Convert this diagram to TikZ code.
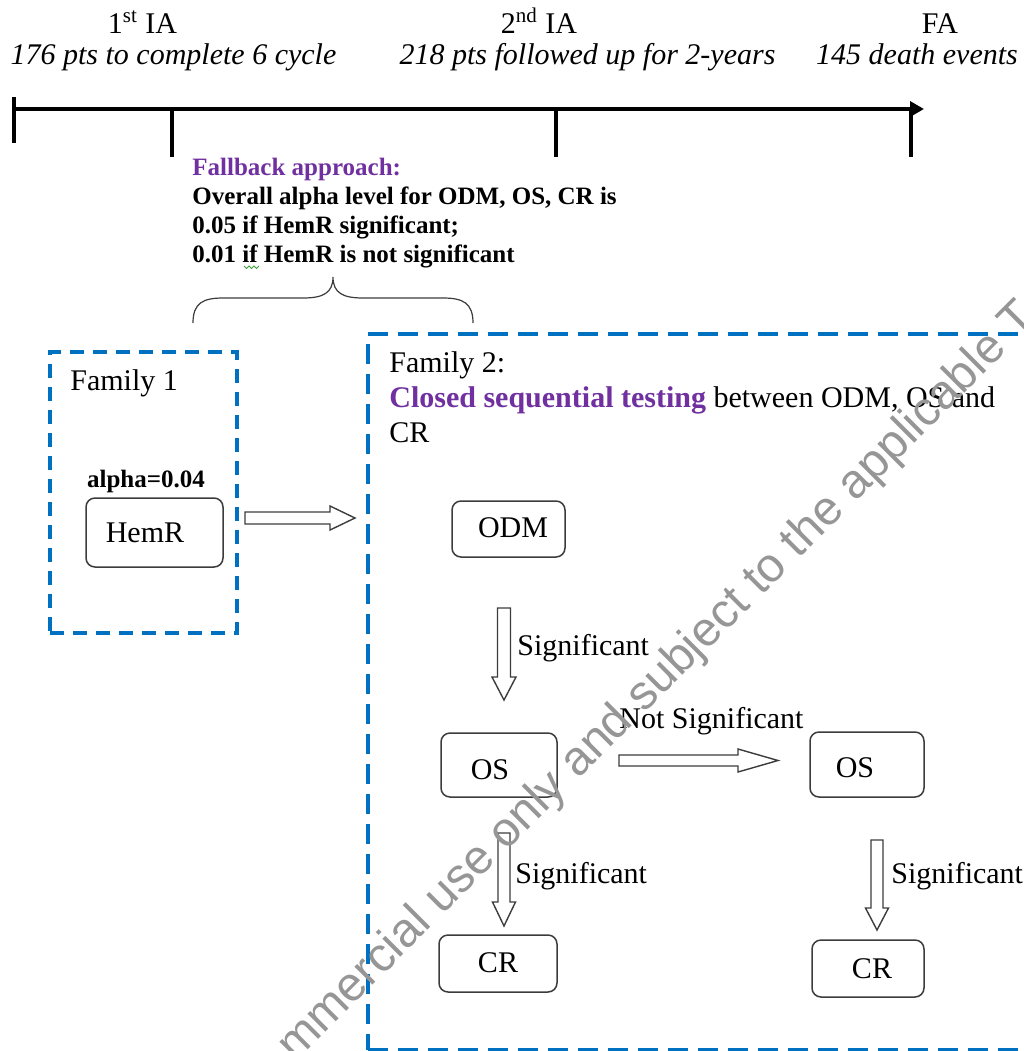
\documentclass[tikz,border=0pt]{standalone}
\usepackage{fontspec}
\setmainfont{Liberation Serif}
\newfontfamily\wmfont{Liberation Sans}
\usetikzlibrary{arrows.meta,calc}
\definecolor{famblue}{RGB}{0,112,192}
\definecolor{purp}{RGB}{112,48,160}
\definecolor{boxgray}{RGB}{60,60,60}
\definecolor{wmgray}{RGB}{150,150,150}
\definecolor{squig}{RGB}{60,160,60}
% hollow block arrows: start, end, shaft half width, head half width, head length
\newcommand\harrowdraw[5]{%
  \draw[blockarr] ($(#1)+(0,-#3)$) -- ($(#2)+(-#5,-#3)$) -- ($(#2)+(-#5,-#4)$) -- (#2) -- ($(#2)+(-#5,#4)$) -- ($(#2)+(-#5,#3)$) -- ($(#1)+(0,#3)$) -- cycle;}
\newcommand\varrowdraw[5]{%
  \draw[blockarr] ($(#1)+(-#3,0)$) -- ($(#2)+(-#3,-#5)$) -- ($(#2)+(-#4,-#5)$) -- (#2) -- ($(#2)+(#4,-#5)$) -- ($(#2)+(#3,-#5)$) -- ($(#1)+(#3,0)$) -- cycle;}
\begin{document}
\begin{tikzpicture}[x=0.5pt,y=-0.5pt,
  txt/.style={inner sep=0pt, font=\fontsize{15}{18}\selectfont},
  itx/.style={inner sep=0pt, font=\fontsize{15}{18}\selectfont\itshape},
  bld/.style={inner sep=0pt, font=\fontsize{12.5}{15}\selectfont\bfseries},
  fam/.style={draw=famblue, line width=2pt, inner sep=0pt},
  rbox/.style={draw=boxgray, line width=0.75pt, rounded corners=4.5pt, inner sep=0pt},
  blockarr/.style={draw=boxgray, line width=0.7pt, fill=white, line join=miter},
  tl/.style={line width=2pt, black},
]
\useasboundingbox (0,0) rectangle (1024,1051);
\clip (0,0) rectangle (1024,1051);

% ---- timeline
\coordinate (t0) at (14,109);
\coordinate (t1) at (924,109);
\draw[tl, -{Triangle[length=7pt,width=7.5pt]}] (t0) -- (t1);
\coordinate (k0a) at (14,97);  \coordinate (k0b) at (14,143);
\coordinate (k1a) at (172,109); \coordinate (k1b) at (172,157);
\coordinate (k2a) at (556,109); \coordinate (k2b) at (556,157);
\coordinate (k3a) at (911,109); \coordinate (k3b) at (911,157);
\draw[tl] (k0a) -- (k0b);
\draw[tl] (k1a) -- (k1b);
\draw[tl] (k2a) -- (k2b);
\draw[tl] (k3a) -- (k3b);

\node[txt, anchor=base] (ia1) at (142.5,33) {1\textsuperscript{st} IA};
\node[itx, anchor=base] (ia1d) at (173.5,64) {176 pts to complete 6 cycle};
\node[txt, anchor=base] (ia2) at (539,33) {2\textsuperscript{nd} IA};
\node[itx, anchor=base] (ia2d) at (587.5,64) {218 pts followed up for 2-years};
\node[txt, anchor=base] (fa) at (940,33) {FA};
\node[itx, anchor=base] (fad) at (917,64) {145 death events};

% ---- fallback text
\node[bld, anchor=base west, text=purp] (fb0) at (192,175) {Fallback approach:};
\node[bld, anchor=base west] (fb1) at (192,204) {Overall alpha level for ODM, OS, CR is};
\node[bld, anchor=base west] (fb2) at (192,233) {0.05 if HemR significant;};
\node[bld, anchor=base west] (fb3) at (192,262) {0.01 if HemR is not significant};
\draw[squig, line width=0.4pt] (244,266) -- (246.5,268.5) -- (249,266) -- (251.5,268.5) -- (254,266) -- (256.5,268.5) -- (259,266);

% ---- brace
\draw[boxgray, line width=0.6pt] (193,323) .. controls (193,303) and (203,298) .. (223,298) -- (303,298)
  .. controls (323,298) and (333,293) .. (333,277)
  .. controls (333,293) and (343,298) .. (363,298) -- (443,298)
  .. controls (463,298) and (473,303) .. (473,323);

% ---- family boxes
\node[fam, dash pattern=on 7pt off 4.5pt, minimum width=93.5pt, minimum height=140.5pt] (fam1) at (143.5,492.5) {};
\node[fam, dash pattern=on 10pt off 5pt, minimum width=366pt, minimum height=358pt] (fam2) at (734,692) {};

\node[txt, anchor=base west] (f1lab) at (70,390) {Family 1};
\node[bld, anchor=base] (alpha) at (146,487) {alpha=0.04};
\node[rbox, minimum width=68.5pt, minimum height=34.5pt] (hemr) at (154.5,532.5) {};
\node[txt, anchor=base] (hemrt) at (145,542) {HemR};

\node[txt, anchor=base west] (f2lab) at (389,372) {Family 2:};
\node[txt, anchor=base west] (f2l2) at (389,407) {{\color{purp}\bfseries Closed sequential testing} between ODM, OS and};
\node[txt, anchor=base west] (f2l3) at (389,442) {CR};

% ---- boxes in family 2
\node[rbox, minimum width=56.5pt, minimum height=28pt] (odm) at (508.5,529) {};
\node[txt, anchor=base] (odmt) at (513,537) {ODM};
\node[rbox, minimum width=58pt, minimum height=32pt] (os1) at (499,765) {};
\node[txt, anchor=base] (os1t) at (490,779) {OS};
\node[rbox, minimum width=59pt, minimum height=28.5pt] (cr1) at (498,963.5) {};
\node[txt, anchor=base] (cr1t) at (498,972) {CR};
\node[rbox, minimum width=57pt, minimum height=32.5pt] (os2) at (867,764.5) {};
\node[txt, anchor=base] (os2t) at (855,777) {OS};
\node[rbox, minimum width=56pt, minimum height=28.5pt] (cr2) at (868,968.5) {};
\node[txt, anchor=base] (cr2t) at (872,978) {CR};

% ---- hollow arrows
\coordinate (aAs) at (245,518); \coordinate (aAe) at (355,518);
\harrowdraw{aAs}{aAe}{6}{12}{25}
\coordinate (aBs) at (504,608); \coordinate (aBe) at (504,700);
\varrowdraw{aBs}{aBe}{6.5}{12}{23}
\coordinate (aCs) at (504,833); \coordinate (aCe) at (504,926);
\varrowdraw{aCs}{aCe}{6}{11.5}{24}
\coordinate (aDs) at (619,760.5); \coordinate (aDe) at (778,760.5);
\harrowdraw{aDs}{aDe}{5.5}{11.5}{40}
\coordinate (aEs) at (877,840); \coordinate (aEe) at (877,930);
\varrowdraw{aEs}{aEe}{6}{11.5}{22}

\node[txt, anchor=base west] (sig1) at (517,655) {Significant};
\node[txt, anchor=base west] (sig2) at (515,883) {Significant};
\node[txt, anchor=base west] (sig3) at (891,883) {Significant};
\node[txt, anchor=base west] (nsig) at (619,728) {Not Significant};

% ---- watermark
\node[inner sep=0pt, anchor=base west, rotate=45, text=wmgray, font=\wmfont\fontsize{24}{28}\selectfont] (wm) at (295,1063) {mmercial use only and subject to the applicable T};
\end{tikzpicture}
\end{document}
